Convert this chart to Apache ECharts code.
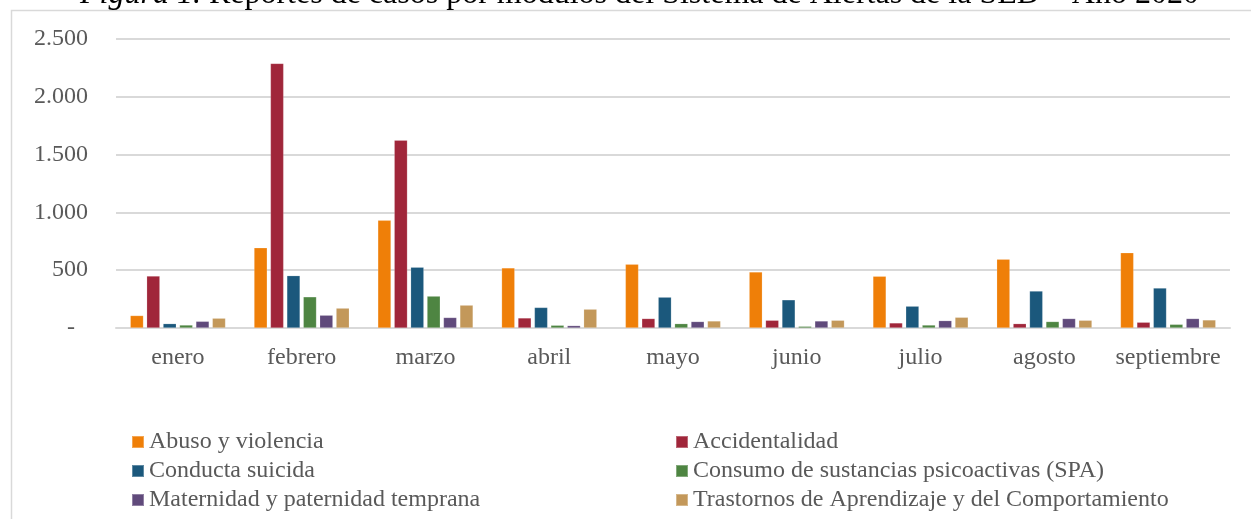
<!DOCTYPE html>
<html>
<head>
<meta charset="utf-8">
<script src="https://cdn.jsdelivr.net/npm/echarts@6/dist/echarts.min.js"></script>
<style>
html,body{margin:0;padding:0;background:#fff;}
#chart{width:1251px;height:519px;}
</style>
</head>
<body>
<div id="chart"></div>
<script>
const categories = ['enero','febrero','marzo','abril','mayo','junio','julio','agosto','septiembre'];
const seriesNames = [
  'Abuso y violencia',
  'Accidentalidad',
  'Conducta suicida',
  'Consumo de sustancias psicoactivas (SPA)',
  'Maternidad y paternidad temprana',
  'Trastornos de Aprendizaje y del Comportamiento'
];
const abuso = [108, 694, 932, 520, 552, 485, 448, 596, 651];
const accidentalidad = [450, 2289, 1625, 87, 82, 67, 44, 38, 50];
const conducta = [38, 453, 526, 178, 267, 244, 189, 320, 346];
const consumo = [26, 270, 276, 24, 38, 15, 26, 56, 32];
const maternidad = [58, 111, 91, 21, 56, 61, 64, 82, 82];
const trastornos = [85, 172, 198, 163, 61, 67, 93, 67, 70];
const yTicks = ['-', '500', '1.000', '1.500', '2.000', '2.500'];

const colors = ['#EF7F08', '#A0263A', '#1B587C', '#4E8542', '#604A7B', '#C3985A'];
const values = [abuso, accidentalidad, conducta, consumo, maternidad, trastornos];

const serif = '"Liberation Serif", "DejaVu Serif", serif';
const chart = echarts.init(document.getElementById('chart'));

const legendText = {fontFamily: serif, fontSize: 24, color: '#595959', lineHeight: 24};

chart.setOption({
  animation: false,
  color: colors,
  title: {
    text: '{i|Figura 1.} Reportes de casos por módulos del Sistema de Alertas de la SED – Año 2020',
    left: 80,
    top: -21,
    padding: 0,
    textStyle: {
      fontFamily: serif, fontSize: 32, color: '#000', fontWeight: 'normal',
      rich: { i: {fontFamily: serif, fontSize: 32, fontStyle: 'italic', color: '#000'} }
    }
  },
  graphic: [{
    type: 'rect',
    shape: {x: 11.5, y: 10.5, width: 1400, height: 700},
    style: {fill: 'none', stroke: '#d9d9d9', lineWidth: 1.5},
    silent: true
  }],
  grid: {left: 116, right: 21, top: 39, bottom: 191, containLabel: false},
  legend: [
    {
      data: [seriesNames[0], seriesNames[2], seriesNames[4]],
      orient: 'vertical', left: 131, top: 430, itemWidth: 12, itemHeight: 12,
      itemGap: 5, icon: 'rect', padding: 0, textStyle: legendText,
      selectedMode: false
    },
    {
      data: [seriesNames[1], seriesNames[3], seriesNames[5]],
      orient: 'vertical', left: 675, top: 430, itemWidth: 12, itemHeight: 12,
      itemGap: 5, icon: 'rect', padding: 0, textStyle: legendText,
      selectedMode: false
    }
  ],
  xAxis: {
    type: 'category',
    data: categories,
    axisLine: {lineStyle: {color: '#d9d9d9', width: 2}},
    axisTick: {show: false},
    axisLabel: {fontFamily: serif, fontSize: 24, color: '#595959', margin: 18, interval: 0}
  },
  yAxis: {
    type: 'value',
    min: 0, max: 2500, interval: 500,
    axisLine: {show: false},
    axisTick: {show: false},
    splitLine: {lineStyle: {color: '#d9d9d9', width: 2}},
    axisLabel: {
      fontFamily: serif, fontSize: 24, color: '#595959', margin: 28,
      formatter: function (v) {
        const t = yTicks[Math.round(v / 500)];
        return v === 0 ? '{d|' + t + '}' : t;
      },
      rich: {d: {fontFamily: serif, fontSize: 24, color: '#595959', padding: [0, 13, 0, 0]}}
    }
  },
  series: values.map(function (arr, i) {
    return {
      name: seriesNames[i],
      type: 'bar',
      data: arr,
      barGap: '24%',
      barCategoryGap: '23%',
      itemStyle: {color: colors[i], borderColor: 'rgba(255,255,255,0.3)', borderWidth: 0.6}
    };
  })
});
</script>
</body>
</html>
